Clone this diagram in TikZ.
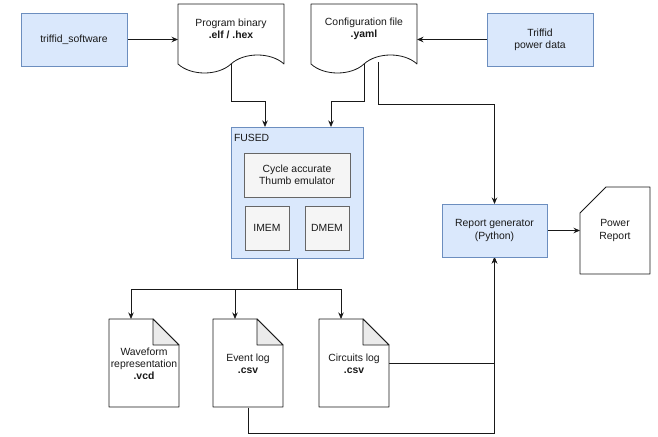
\documentclass[tikz,border=0pt]{standalone}
\usepackage{fontspec}
\setmainfont{Liberation Sans}
\usetikzlibrary{arrows.meta,calc}
\definecolor{bfill}{HTML}{DAE8FC}
\definecolor{bdraw}{HTML}{6C8EBF}
\definecolor{gfill}{HTML}{F5F5F5}
\definecolor{gdraw}{HTML}{666666}
\definecolor{foldc}{HTML}{EBEBEB}
\pgfdeclarelayer{bg}
\pgfsetlayers{bg,main}
\begin{document}
\begin{tikzpicture}[x=1pt,y=-1pt,
  every node/.style={font=\fontsize{10.4}{12.2}\selectfont, inner sep=0pt, outer sep=0pt, align=center, text=black!90},
  bluebox/.style={draw=bdraw, fill=bfill, line width=0.8pt, rectangle},
  graybox/.style={draw=gdraw, fill=gfill, line width=0.8pt, rectangle},
  txtbox/.style={rectangle},
  outline/.style={draw=black!90, fill=white, line width=0.8pt, line join=round},
  foldfill/.style={draw=black!90, fill=foldc, line width=0.8pt, line join=round},
  arr/.style={draw=black!90, line width=0.8pt, -{Stealth[length=6.5pt,width=5.5pt]}},
  conn/.style={draw=black!90, line width=0.8pt}
]
\useasboundingbox (0,0) rectangle (658,436);

% blue source boxes
\node[bluebox, minimum width=106pt, minimum height=53pt] (sw) at (74,39.5) {triffid\_software};
\node[bluebox, minimum width=106pt, minimum height=53pt] (tpd) at (540,39.5) {Triffid\\power data};

% program binary document
\path[outline] (178,4) -- (284,4) -- (284,64) .. controls (271,52) and (244,52) .. (231,64)
  .. controls (218,76) and (191,76) .. (178,64) -- cycle;
\node[txtbox, minimum width=106pt, minimum height=50pt] (pb) at (231,29) {Program binary\\\textbf{.elf / .hex}};

% configuration file document
\path[outline] (311,4) -- (417,4) -- (417,64) .. controls (404,52) and (377,52) .. (364,64)
  .. controls (351,76) and (324,76) .. (311,64) -- cycle;
\node[txtbox, minimum width=106pt, minimum height=50pt] (cf) at (364,29) {Configuration file\\\textbf{.yaml}};

% FUSED
\node[bluebox, minimum width=132pt, minimum height=131pt] (fused) at (297,192.5) {};
\node[anchor=west] (fusedlbl) at (234,137.5) {FUSED};
\node[graybox, minimum width=106pt, minimum height=44pt] (cyc) at (297,175) {Cycle accurate\\Thumb emulator};
\node[graybox, minimum width=44pt, minimum height=44pt] (imem) at (267,228) {IMEM};
\node[graybox, minimum width=44pt, minimum height=44pt] (dmem) at (327,228) {DMEM};

% report generator
\node[bluebox, minimum width=105pt, minimum height=53pt] (rg) at (494.5,230.5) {Report generator\\(Python)};

% power report (card)
\path[outline] (606,187) -- (650,187) -- (650,274) -- (580,274) -- (580,213) -- cycle;
\node[txtbox, minimum width=70pt, minimum height=87pt] (pr) at (615,230.5) {Power\\Report};

% output documents (notes)
\path[outline] (109,319) -- (153,319) -- (179,345) -- (179,407) -- (109,407) -- cycle;
\path[foldfill] (153,319) -- (153,345) -- (179,345) -- cycle;
\node[txtbox, minimum width=70pt, minimum height=88pt] (wv) at (144,364) {Waveform\\representation\\\textbf{.vcd}};

\path[outline] (213,319) -- (257,319) -- (283,345) -- (283,407) -- (213,407) -- cycle;
\path[foldfill] (257,319) -- (257,345) -- (283,345) -- cycle;
\node[txtbox, minimum width=70pt, minimum height=88pt] (ev) at (248,363.5) {Event log\\\textbf{.csv}};

\path[outline] (319,319) -- (363,319) -- (389,345) -- (389,407) -- (319,407) -- cycle;
\path[foldfill] (363,319) -- (363,345) -- (389,345) -- cycle;
\node[txtbox, minimum width=70pt, minimum height=88pt] (ci) at (354,363.5) {Circuits log\\\textbf{.csv}};

% coordinates for connector routing
\coordinate (pbm) at (231,62);
\coordinate (k1) at (265,101);
\coordinate (cfm) at (364,62);
\coordinate (k2) at (331,101);
\coordinate (cfr) at (378,62);
\coordinate (k3) at (494.5,104);
\coordinate (k4) at (297,289);
\coordinate (wvin) at (131,319);
\coordinate (evin) at (235,319);
\coordinate (ciin) at (341,319);
\coordinate (k5) at (248,433);

\begin{pgfonlayer}{bg}
\draw[arr] (sw.east) -- (sw.east -| 178,0);
\draw[arr] (tpd.west) -- (tpd.west -| 417,0);
\draw[arr] (pbm) |- (k1) -- (k1 |- fused.north);
\draw[arr] (cfm) |- (k2) -- (k2 |- fused.north);
\draw[arr] (cfr) |- (k3) -- (rg.north);
\draw[arr] (fused.south) -- (k4) -| (wvin);
\draw[arr] (fused.south) -- (k4) -| (evin);
\draw[arr] (fused.south) -- (k4) -| (ciin);
\draw[arr] (ci.east) -| (rg.south);
\draw[arr] (ev.south) -- (k5) -| (rg.south);
\draw[arr] (rg.east) -- (rg.east -| 580,0);
\end{pgfonlayer}
\end{tikzpicture}
\end{document}
